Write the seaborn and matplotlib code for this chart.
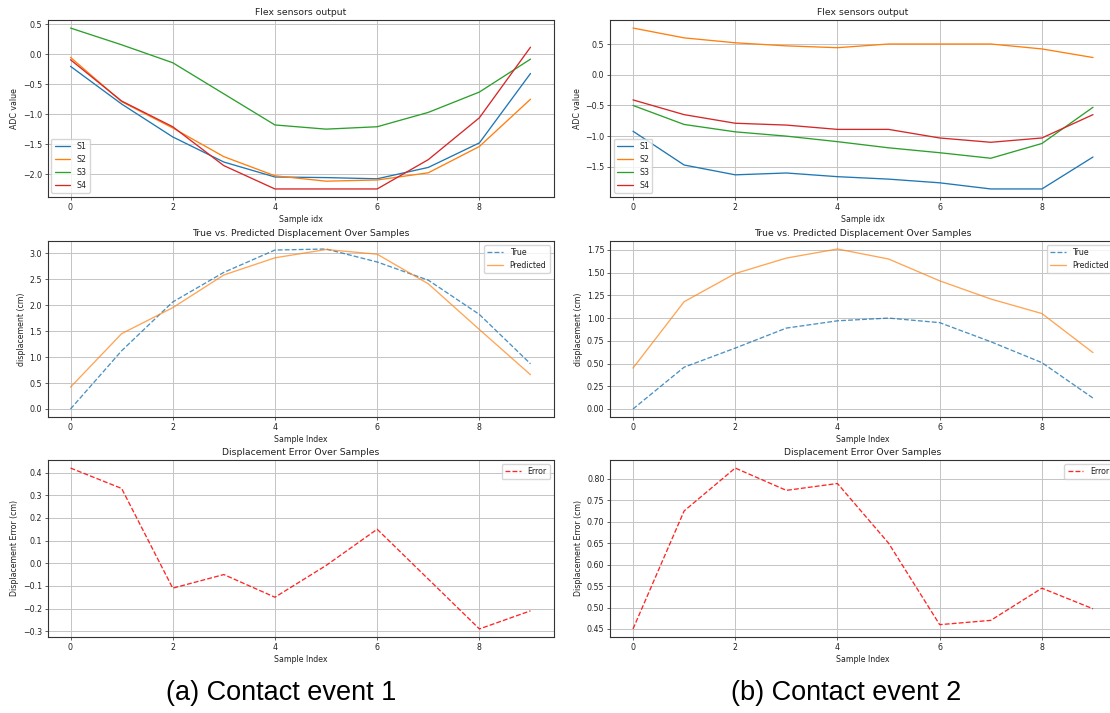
import matplotlib
matplotlib.use("Agg")
import matplotlib.pyplot as plt
import pandas as pd
import seaborn as sns

samples = list(range(10))
sensor_names = ["S1", "S2", "S3", "S4"]

# Contact event 1: flex sensor readings
e1_s1 = [-0.20, -0.83, -1.38, -1.80, -2.05, -2.06, -2.08, -1.89, -1.48, -0.32]
e1_s2 = [-0.05, -0.79, -1.23, -1.71, -2.03, -2.12, -2.10, -1.98, -1.54, -0.75]
e1_s3 = [0.44, 0.16, -0.14, -0.66, -1.18, -1.25, -1.21, -0.97, -0.63, -0.08]
e1_s4 = [-0.09, -0.78, -1.21, -1.86, -2.25, -2.25, -2.25, -1.76, -1.06, 0.12]

# Contact event 1: displacement
e1_true = [0.00, 1.12, 2.06, 2.63, 3.06, 3.08, 2.83, 2.48, 1.82, 0.87]
e1_pred = [0.42, 1.45, 1.95, 2.58, 2.91, 3.07, 2.98, 2.41, 1.53, 0.66]
e1_error = [0.42, 0.33, -0.11, -0.05, -0.15, -0.01, 0.15, -0.07, -0.29, -0.21]

# Contact event 2: flex sensor readings
e2_s1 = [-0.92, -1.47, -1.63, -1.60, -1.66, -1.70, -1.76, -1.86, -1.86, -1.34]
e2_s2 = [0.76, 0.60, 0.52, 0.47, 0.44, 0.50, 0.50, 0.50, 0.42, 0.28]
e2_s3 = [-0.50, -0.81, -0.93, -1.00, -1.09, -1.19, -1.27, -1.36, -1.12, -0.53]
e2_s4 = [-0.41, -0.65, -0.79, -0.82, -0.89, -0.89, -1.03, -1.10, -1.03, -0.65]

# Contact event 2: displacement
e2_true = [0.00, 0.46, 0.67, 0.89, 0.97, 1.00, 0.95, 0.74, 0.51, 0.12]
e2_pred = [0.45, 1.18, 1.49, 1.66, 1.76, 1.65, 1.41, 1.21, 1.05, 0.62]
e2_error = [0.45, 0.725, 0.825, 0.773, 0.789, 0.65, 0.46, 0.47, 0.545, 0.497]

captions = ["(a) Contact event 1", "(b) Contact event 2"]

sns.set_theme(style="ticks", rc={
    "axes.grid": True,
    "grid.color": "#c4c4c4",
    "grid.linewidth": 0.7,
    "axes.edgecolor": "#333333",
    "axes.linewidth": 0.8,
    "xtick.major.size": 2.0,
    "ytick.major.size": 2.0,
    "xtick.major.width": 0.5,
    "ytick.major.width": 0.5,
    "xtick.color": "#222222",
    "ytick.color": "#222222",
    "xtick.labelsize": 5.7,
    "ytick.labelsize": 5.7,
    "axes.labelsize": 5.7,
    "axes.titlesize": 6.7,
    "legend.fontsize": 5.7,
    "axes.labelcolor": "#222222",
    "text.color": "#222222",
    "axes.titlepad": 3.5,
    "axes.labelpad": 2.5,
    "xtick.major.pad": 2.0,
    "ytick.major.pad": 2.0,
})
plt.rcParams["font.family"] = ["DejaVu Sans"]

W, H = 1110, 713
fig = plt.figure(figsize=(W / 100, H / 100), dpi=100)

col_left = [47.5, 610.0]
col_width = 506.0
rows = [(20, 197), (241, 417), (460, 637)]

palette = sns.color_palette("tab10", 4)


def add_ax(col, row):
    top, bot = rows[row]
    return fig.add_axes([col_left[col] / W, 1 - bot / H,
                         col_width / W, (bot - top) / H])


events = [
    ([e1_s1, e1_s2, e1_s3, e1_s4], e1_true, e1_pred, e1_error),
    ([e2_s1, e2_s2, e2_s3, e2_s4], e2_true, e2_pred, e2_error),
]

for col, (sensors, true_d, pred_d, err_d) in enumerate(events):
    # flex sensors
    df = pd.DataFrame({
        "idx": samples * len(sensor_names),
        "value": sum(sensors, []),
        "sensor": sum([[n] * len(samples) for n in sensor_names], []),
    })
    ax = add_ax(col, 0)
    sns.lineplot(data=df, x="idx", y="value", hue="sensor", palette=palette,
                 linewidth=0.95, ax=ax)
    h, l = ax.get_legend_handles_labels()
    ax.legend(h, l, loc="lower left")
    ax.set_title("Flex sensors output")
    ax.set_xlabel("Sample idx")
    ax.set_ylabel("ADC value")

    # true vs predicted
    ax = add_ax(col, 1)
    sns.lineplot(x=samples, y=true_d, color=palette[0], linestyle="--",
                 linewidth=0.95, alpha=0.8, label="True", ax=ax)
    sns.lineplot(x=samples, y=pred_d, color=palette[1], linestyle="-",
                 linewidth=0.95, alpha=0.7, label="Predicted", ax=ax)
    ax.legend(loc="upper right")
    ax.set_title("True vs. Predicted Displacement Over Samples")
    ax.set_xlabel("Sample Index")
    ax.set_ylabel("displacement (cm)")

    # error
    ax = add_ax(col, 2)
    sns.lineplot(x=samples, y=err_d, color="red", linestyle="--",
                 linewidth=0.95, alpha=0.85, label="Error", ax=ax)
    ax.legend(loc="upper right")
    ax.set_title("Displacement Error Over Samples")
    ax.set_xlabel("Sample Index")
    ax.set_ylabel("Displacement Error (cm)")

for x, text in zip([281, 846], captions):
    fig.text(x / W, 1 - 693 / H, text, ha="center", va="center",
             fontsize=19.5, color="black", family=["Liberation Sans"])

fig.savefig("out.png", dpi=100)
